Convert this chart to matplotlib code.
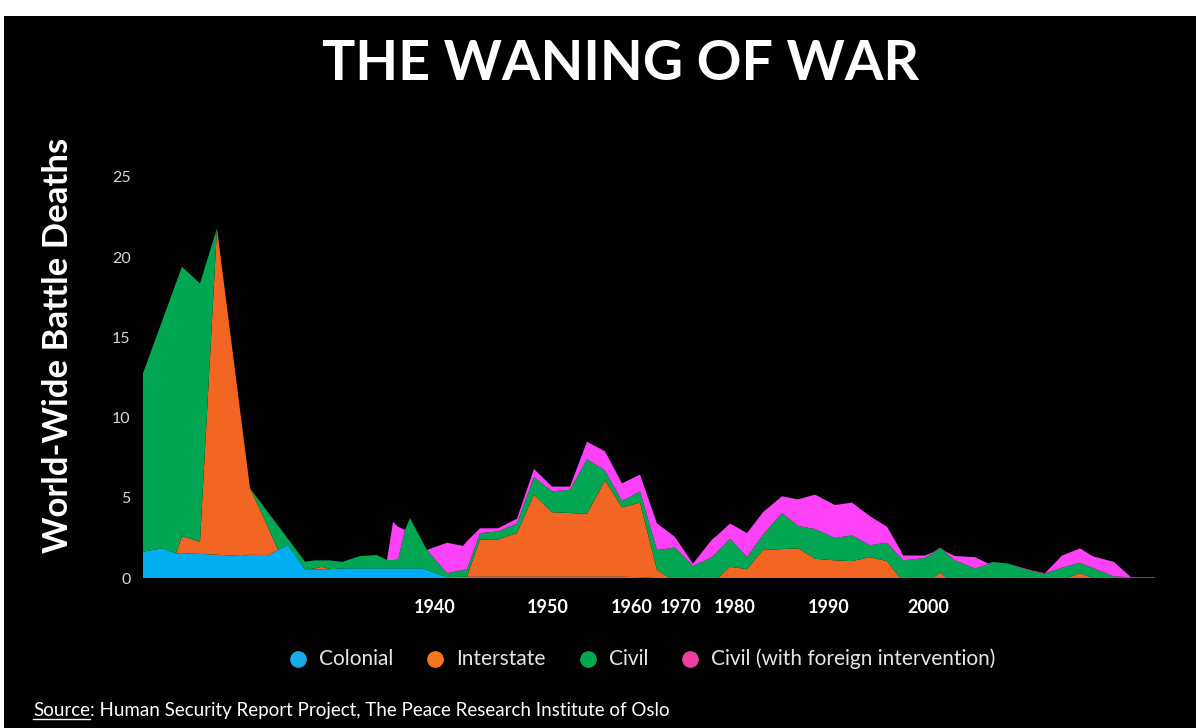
import matplotlib
matplotlib.use("Agg")
import matplotlib.pyplot as plt
from matplotlib.lines import Line2D
from matplotlib.patches import Rectangle

# ---------------- data ----------------
# horizontal position of each vertex (arbitrary units along the time axis)
x_pos = [0, 19, 33, 39, 57, 74, 99, 107, 125, 135, 145,
         162, 172, 179, 187, 199, 217, 234, 244, 250, 255,
         262, 267, 280, 284, 304, 320, 324, 337, 355, 374,
         391, 409, 427, 444, 462, 479, 497,
         514, 527, 532, 550, 569, 575, 587, 604, 620, 639,
         655, 672, 692, 709, 727, 744, 757, 760, 782, 790,
         797, 804, 812, 832, 845, 850, 865, 890, 902, 919,
         924, 937, 950, 971, 988, 1012]

colonial = [1.64, 1.85, 1.54, 1.55, 1.5, 1.45, 1.37, 1.45, 1.43, 1.75, 2.06,
            0.54, 0.54, 0.54, 0.55, 0.6, 0.6, 0.6, 0.6, 0.6, 0.6,
            0.6, 0.6, 0.6, 0.5, 0.05, 0.08, 0.08, 0.08, 0.08, 0.08,
            0.08, 0.08, 0.08, 0.08, 0.08, 0.08, 0.05,
            0, 0, 0, 0, 0, 0, 0, 0, 0, 0,
            0, 0, 0, 0, 0, 0, 0, 0, 0, 0,
            0, 0, 0, 0, 0, 0, 0, 0, 0, 0,
            0, 0, 0, 0, 0, 0]

interstate = [0, 0, 0, 1.05, 0.76, 20.35, 8.13, 4.15, 1.73, 0, 0,
              0, 0.06, 0.16, 0, 0, 0, 0, 0, 0, 0,
              0, 0, 0, 0, 0, 0, 0.02, 2.32, 2.32, 2.72,
              5.12, 4.02, 3.97, 3.92, 6.02, 4.32, 4.65,
              0.5, 0, 0, 0, 0, 0, 0.7, 0.55, 1.75, 1.8,
              1.85, 1.2, 1.1, 1.05, 1.3, 1.05, 0, 0, 0, 0,
              0.35, 0, 0, 0, 0, 0, 0, 0, 0, 0,
              0, 0.3, 0, 0, 0, 0]

civil = [11.12, 14.15, 16.86, 16.8, 16.11, 0, 0, 0, 0.94, 1.52, 0.38,
         0.48, 0.5, 0.4, 0.55, 0.4, 0.77, 0.83, 0.52, 0.52, 0.55,
         2.4, 3.14, 1.6, 1.25, 0.25, 0.42, 0.45, 0.4, 0.5, 0.6,
         1.1, 1.3, 1.45, 3.4, 0.6, 0.4, 0.7,
         1.25, 1.85, 1.9, 0.75, 1.3, 1.68, 1.75, 0.75, 0.95, 2.25,
         1.4, 1.85, 1.4, 1.6, 0.75, 1.15, 1.3, 1.1, 1.25, 1.55,
         1.55, 1.5, 1.1, 0.6, 0.85, 1.0, 0.9, 0.4, 0.28, 0.65,
         0.74, 0.65, 0.62, 0.1, 0.05, 0.05]

civil_foreign = [0, 0, 0, 0, 0, 0, 0, 0, 0, 0, 0,
                 0, 0, 0, 0, 0, 0, 0, 0, 2.38, 2.05,
                 0, 0, 0, 0, 1.9, 1.5, 1.75, 0.3, 0.2, 0.3,
                 0.5, 0.3, 0.2, 1.1, 1.2, 1.1, 1.05,
                 1.65, 0.95, 0.65, 0.15, 1.1, 1.02, 0.95, 1.5, 1.4, 1.05,
                 1.65, 2.15, 2.05, 2.05, 1.8, 1.0, 0.5, 0.3, 0.15, 0.05,
                 0, 0.1, 0.27, 0.7, 0.05, 0, 0, 0.05, 0.02, 0.75,
                 0.78, 0.9, 0.73, 0.9, 0, 0]

series_names = ["Colonial", "Interstate", "Civil", "Civil (with foreign intervention)"]
year_labels = ["1940", "1950", "1960", "1970", "1980", "1990", "2000"]
year_label_pos = [292, 405, 489, 538, 592, 686, 785]
y_ticks = [0, 5, 10, 15, 20, 25]

# ---------------- style ----------------
area_colors = ["#00aeef", "#f26522", "#00a651", "#ff42f8"]
dot_colors = ["#1aa9ea", "#f47820", "#00a94f", "#ee3fa0"]
FONT = "Lato"

W, H = 1196, 728
fig = plt.figure(figsize=(W / 100, H / 100), dpi=100, facecolor="white")

# black slide area (thin white margin at top and left as in the screenshot)
fig.add_artist(Rectangle((4 / W, 0), 1 - 4 / W, 1 - 16 / H, transform=fig.transFigure,
                         facecolor="black", edgecolor="none", zorder=0))

ax = fig.add_axes([143 / W, 150 / H, 1012 / W, 401 / H])
ax.set_facecolor("black")
ax.patch.set_alpha(0)
ax.stackplot(x_pos, colonial, interstate, civil, civil_foreign,
             colors=area_colors, linewidth=0, antialiased=True)
ax.set_xlim(0, 1012)
ax.set_ylim(0, 25)
for s in ax.spines.values():
    s.set_visible(False)

ax.set_yticks(y_ticks)
ax.set_yticklabels([str(v) for v in y_ticks], fontsize=11.5, color="#d8d8d8",
                   fontfamily=FONT)
ax.set_xticks(year_label_pos)
ax.set_xticklabels(year_labels, fontsize=13, color="white", fontweight="bold",
                   fontfamily=FONT)
ax.tick_params(axis="both", length=0)
ax.tick_params(axis="y", pad=9)
ax.tick_params(axis="x", pad=15)

# title
fig.text(620 / W, 1 - 80 / H, "THE WANING OF WAR", ha="center", va="baseline",
         color="white", fontsize=40, fontweight="bold", fontfamily=FONT)

# y label
fig.text(58 / W, 1 - 345 / H, "World-Wide Battle Deaths", rotation=90,
         ha="center", va="center", color="white", fontsize=25,
         fontweight="bold", fontfamily=FONT)

# legend
dot_x = [298, 435, 588, 690]
ly = 1 - 659 / H
for name, c, dx in zip(series_names, dot_colors, dot_x):
    fig.add_artist(Line2D([dx / W], [ly], marker="o", markersize=11,
                          markerfacecolor=c, markeredgecolor=c, linestyle="none",
                          transform=fig.transFigure))
    fig.text((dx + 21) / W, ly, name, ha="left", va="center", color="#e6e6e6",
             fontsize=15, fontfamily=FONT)

# source line with underlined "Source"
sy = 1 - 716 / H
t1 = fig.text(33 / W, sy, "Source", ha="left", va="baseline", color="white",
              fontsize=13.5, fontfamily=FONT)
fig.canvas.draw()
bb = t1.get_window_extent(renderer=fig.canvas.get_renderer())
x0, x1 = bb.x0 / W, bb.x1 / W
fig.add_artist(Line2D([x0, x1], [sy - 3 / H, sy - 3 / H], color="white",
                      linewidth=1, transform=fig.transFigure))
fig.text(x1, sy, ": Human Security Report Project, The Peace Research Institute of Oslo",
         ha="left", va="baseline", color="white", fontsize=13.5, fontfamily=FONT)

fig.savefig("out.png", dpi=100, facecolor=fig.get_facecolor())
